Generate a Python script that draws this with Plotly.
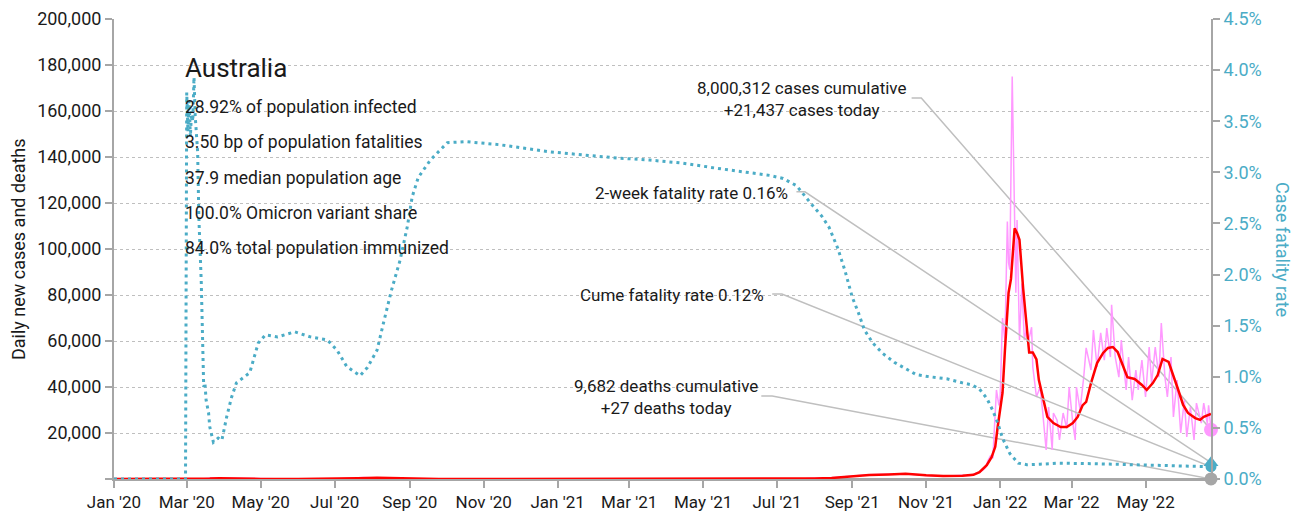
import plotly.graph_objects as go

# ==========================================
# Data
# ==========================================

# daily new cases (pink)
daily_dates = [
    "2020-01-01", "2020-03-01", "2020-03-15", "2020-03-22", "2020-03-28", "2020-04-05",
    "2020-04-20", "2020-06-01", "2020-07-05", "2020-07-25", "2020-08-05", "2020-08-20",
    "2020-09-10", "2020-10-15", "2021-01-10", "2021-03-01", "2021-07-01", "2021-07-25",
    "2021-08-15", "2021-09-01", "2021-09-15", "2021-10-01", "2021-10-15", "2021-11-01",
    "2021-11-15", "2021-12-01", "2021-12-08", "2021-12-12", "2021-12-15", "2021-12-18",
    "2021-12-20", "2021-12-22", "2021-12-24", "2021-12-26", "2021-12-27", "2021-12-29",
    "2021-12-31", "2022-01-01", "2022-01-03", "2022-01-05", "2022-01-07", "2022-01-08",
    "2022-01-09", "2022-01-11", "2022-01-13", "2022-01-14", "2022-01-15", "2022-01-16",
    "2022-01-17", "2022-01-19", "2022-01-21", "2022-01-23", "2022-01-24", "2022-01-27",
    "2022-01-28", "2022-01-31", "2022-02-03", "2022-02-05", "2022-02-08", "2022-02-10",
    "2022-02-13", "2022-02-14", "2022-02-17", "2022-02-19", "2022-02-22", "2022-02-25",
    "2022-02-27", "2022-03-02", "2022-03-04", "2022-03-05", "2022-03-08", "2022-03-11",
    "2022-03-13", "2022-03-17", "2022-03-19", "2022-03-22", "2022-03-25", "2022-03-28",
    "2022-03-30", "2022-04-02", "2022-04-03", "2022-04-06", "2022-04-09", "2022-04-11",
    "2022-04-15", "2022-04-17", "2022-04-20", "2022-04-23", "2022-04-25", "2022-04-28",
    "2022-05-01", "2022-05-04", "2022-05-06", "2022-05-09", "2022-05-12", "2022-05-14",
    "2022-05-17", "2022-05-19", "2022-05-22", "2022-05-24", "2022-05-27", "2022-05-30",
    "2022-06-02", "2022-06-04", "2022-06-07", "2022-06-10", "2022-06-12", "2022-06-16",
    "2022-06-18", "2022-06-21", "2022-06-22", "2022-06-24",
]
daily_cases = [
    0, 5, 120, 450, 400, 150,
    30, 10, 150, 700, 450, 250,
    50, 15, 25, 10, 20, 180,
    500, 1300, 1800, 2100, 2300, 1500,
    1200, 1600, 1500, 2500, 3000, 4000,
    5000, 8000, 10000, 9000, 18000, 38700,
    32000, 35000, 70000, 60000, 112000, 94000,
    91000, 175000, 112600, 81000, 112600, 83500,
    60400, 85000, 60400, 66000, 59000, 66000,
    48700, 35700, 40000, 30000, 12600, 31300,
    12600, 28700, 25600, 17000, 28700, 22000,
    40000, 24300, 17000, 40000, 30000, 44300,
    57000, 47400, 64800, 48700, 63500, 51700,
    65600, 53000, 75700, 53000, 44300, 60400,
    38700, 53000, 34300, 47400, 38700, 51700,
    35700, 57400, 41700, 57400, 44300, 67800,
    44300, 35700, 53000, 27000, 43000, 20000,
    34300, 18300, 31300, 17000, 33000, 24300,
    33000, 24000, 32000, 21437,
]

# 7-day average of cases (red)
avg_dates = [
    "2020-01-01", "2020-02-29", "2020-03-10", "2020-03-20", "2020-03-28", "2020-04-05",
    "2020-04-15", "2020-05-01", "2020-06-01", "2020-06-20", "2020-07-05", "2020-07-20",
    "2020-08-05", "2020-08-20", "2020-09-05", "2020-09-25", "2020-10-15", "2020-12-01",
    "2021-01-10", "2021-03-01", "2021-06-01", "2021-07-01", "2021-07-20", "2021-08-01",
    "2021-08-15", "2021-09-01", "2021-09-15", "2021-10-01", "2021-10-15", "2021-11-01",
    "2021-11-15", "2021-12-01", "2021-12-10", "2021-12-15", "2021-12-21", "2021-12-25",
    "2021-12-28", "2021-12-30", "2022-01-03", "2022-01-05", "2022-01-08", "2022-01-10",
    "2022-01-12", "2022-01-13", "2022-01-15", "2022-01-17", "2022-01-20", "2022-01-23",
    "2022-01-25", "2022-01-28", "2022-01-31", "2022-02-02", "2022-02-06", "2022-02-09",
    "2022-02-14", "2022-02-20", "2022-02-25", "2022-03-02", "2022-03-06", "2022-03-10",
    "2022-03-13", "2022-03-17", "2022-03-22", "2022-03-27", "2022-03-31", "2022-04-04",
    "2022-04-08", "2022-04-12", "2022-04-16", "2022-04-22", "2022-04-28", "2022-05-02",
    "2022-05-07", "2022-05-11", "2022-05-15", "2022-05-20", "2022-05-24", "2022-05-28",
    "2022-06-01", "2022-06-05", "2022-06-11", "2022-06-15", "2022-06-18", "2022-06-22",
    "2022-06-24",
]
avg_cases = [
    0, 2, 60, 250, 370, 230,
    60, 20, 10, 20, 120, 300,
    550, 350, 120, 30, 15, 10,
    20, 10, 10, 20, 120, 250,
    450, 1200, 1700, 1950, 2300, 1600,
    1300, 1400, 1800, 3000, 6000, 9500,
    14000, 22600, 37400, 56000, 81000, 87000,
    101000, 109000, 107000, 104000, 83000, 66000,
    55000, 55000, 52000, 43000, 33000, 27000,
    24300, 22600, 22600, 24300, 27000, 32000,
    33500, 41700, 50400, 54800, 57000, 57400,
    55200, 49600, 44300, 43500, 40900, 38700,
    41700, 45200, 52200, 50900, 44300, 38700,
    32200, 28700, 26500, 25700, 27000, 27800,
    28300,
]

# daily deaths (grey)
death_dates = [
    "2020-01-01", "2020-04-05", "2020-08-05", "2020-08-20", "2020-09-15", "2020-10-15",
    "2021-08-01", "2021-10-01", "2021-11-01", "2021-12-20", "2022-01-15", "2022-02-05",
    "2022-03-01", "2022-04-01", "2022-05-01", "2022-06-01", "2022-06-24",
]
daily_deaths = [0, 5, 20, 15, 5, 0, 2, 15, 10, 5, 60, 50, 25, 30, 40, 50, 27]

# cumulative case fatality rate, % (teal, right axis)
cfr_dates = [
    "2020-01-01", "2020-02-29", "2020-03-01", "2020-03-02", "2020-03-03", "2020-03-04",
    "2020-03-05", "2020-03-06", "2020-03-07", "2020-03-08", "2020-03-10", "2020-03-11",
    "2020-03-13", "2020-03-14", "2020-03-15", "2020-03-16", "2020-03-17", "2020-03-19",
    "2020-03-20", "2020-03-23", "2020-03-27", "2020-03-30", "2020-04-03", "2020-04-07",
    "2020-04-11", "2020-04-22", "2020-04-29", "2020-05-05", "2020-05-15", "2020-05-29",
    "2020-06-11", "2020-06-25", "2020-07-03", "2020-07-11", "2020-07-22", "2020-07-28",
    "2020-08-05", "2020-08-11", "2020-08-17", "2020-08-24", "2020-08-30", "2020-09-03",
    "2020-09-08", "2020-09-18", "2020-10-02", "2020-10-18", "2020-11-14", "2020-12-26",
    "2021-02-05", "2021-02-19", "2021-03-18", "2021-04-14", "2021-05-12", "2021-06-08",
    "2021-06-25", "2021-07-06", "2021-07-17", "2021-07-30", "2021-08-07", "2021-08-13",
    "2021-08-20", "2021-08-26", "2021-09-01", "2021-09-06", "2021-09-11", "2021-09-18",
    "2021-09-26", "2021-10-06", "2021-10-16", "2021-10-24", "2021-11-04", "2021-11-18",
    "2021-12-01", "2021-12-09", "2021-12-15", "2021-12-21", "2021-12-26", "2021-12-30",
    "2022-01-03", "2022-01-09", "2022-01-16", "2022-01-23", "2022-02-03", "2022-02-19",
    "2022-03-18", "2022-04-15", "2022-05-13", "2022-06-24",
]
cfr_pct = [
    0, 0, 3.78, 3.40, 3.70, 3.35,
    3.60, 3.50, 3.93, 3.55, 3.20, 2.56,
    1.92, 1.36, 0.90, 0.94, 0.77, 0.65,
    0.51, 0.36, 0.40, 0.38, 0.61, 0.80,
    0.94, 1.04, 1.33, 1.41, 1.39, 1.44,
    1.39, 1.36, 1.26, 1.10, 1.01, 1.09,
    1.26, 1.56, 1.85, 2.14, 2.47, 2.76,
    2.95, 3.12, 3.29, 3.30, 3.27, 3.20,
    3.15, 3.14, 3.12, 3.09, 3.04, 3.00,
    2.97, 2.94, 2.87, 2.68, 2.57, 2.46,
    2.26, 2.04, 1.78, 1.63, 1.46, 1.33,
    1.23, 1.14, 1.07, 1.02, 1.00, 0.98,
    0.94, 0.92, 0.88, 0.79, 0.67, 0.55,
    0.40, 0.25, 0.155, 0.14, 0.145, 0.155,
    0.15, 0.14, 0.13, 0.12,
]

two_week_cfr = 0.16
cases_cumulative = "8,000,312"
deaths_cumulative = "9,682"
deaths_today = 27

stats_lines = [
    "28.92% of population infected",
    "3.50 bp of population fatalities",
    "37.9 median population age",
    "100.0% Omicron variant share",
    "84.0% total population immunized",
]

tick_dates = [
    "2020-01-01", "2020-03-01", "2020-05-01", "2020-07-01", "2020-09-01", "2020-11-01",
    "2021-01-01", "2021-03-01", "2021-05-01", "2021-07-01", "2021-09-01", "2021-11-01",
    "2022-01-01", "2022-03-01", "2022-05-01",
]

# ==========================================
# Styles
# ==========================================

FONT = "Roboto, Liberation Sans, sans-serif"
TEXT = "#1a1a1a"
PINK = "#FF99FF"
RED = "#FF0000"
TEAL = "#4BACC6"
GREY = "#A6A6A6"
LEADER = "#BFBFBF"

last_date = avg_dates[-1]
cases_today = daily_cases[-1]

fig = go.Figure()

# leader lines from the callouts to the end points
fig.add_trace(go.Scatter(
    x=["2021-10-20", "2021-10-28", last_date], y=[165650, 165650, cases_today],
    mode="lines", line=dict(color=LEADER, width=1.5), hoverinfo="skip", showlegend=False))
fig.add_trace(go.Scatter(
    x=["2021-06-18", "2021-06-27", last_date], y=[36100, 36100, deaths_today],
    mode="lines", line=dict(color=LEADER, width=1.5), hoverinfo="skip", showlegend=False))

fig.add_trace(go.Scatter(
    x=daily_dates, y=daily_cases, mode="lines",
    line=dict(color=PINK, width=1.5), showlegend=False))
fig.add_trace(go.Scatter(
    x=death_dates, y=daily_deaths, mode="lines",
    line=dict(color=GREY, width=2), showlegend=False))
fig.add_trace(go.Scatter(
    x=avg_dates, y=avg_cases, mode="lines",
    line=dict(color=RED, width=2.5), showlegend=False))

fig.add_trace(go.Scatter(
    x=[last_date], y=[cases_today], mode="markers", cliponaxis=False,
    marker=dict(color=PINK, size=14), showlegend=False))
fig.add_trace(go.Scatter(
    x=[last_date], y=[deaths_today], mode="markers", cliponaxis=False,
    marker=dict(color=GREY, size=13), showlegend=False))

fig.add_trace(go.Scatter(
    x=["2021-07-17", "2021-07-24", last_date], y=[2.81, 2.81, two_week_cfr], yaxis="y2",
    mode="lines", line=dict(color=LEADER, width=1.5), hoverinfo="skip", showlegend=False))
fig.add_trace(go.Scatter(
    x=["2021-06-27", "2021-07-05", last_date], y=[1.81, 1.81, cfr_pct[-1]], yaxis="y2",
    mode="lines", line=dict(color=LEADER, width=1.5), hoverinfo="skip", showlegend=False))

fig.add_trace(go.Scatter(
    x=cfr_dates, y=cfr_pct, yaxis="y2", mode="lines",
    line=dict(color=TEAL, width=3, dash="3px,4px"), showlegend=False))
fig.add_trace(go.Scatter(
    x=[last_date], y=[cfr_pct[-1]], yaxis="y2", mode="markers", cliponaxis=False,
    marker=dict(color=TEAL, size=11), showlegend=False))
fig.add_trace(go.Scatter(
    x=[last_date], y=[two_week_cfr], yaxis="y2", mode="markers", cliponaxis=False,
    marker=dict(color=TEAL, size=13, symbol="triangle-up"), showlegend=False))

# ==========================================
# Text
# ==========================================

annotations = [
    dict(text="Australia", x=0.0629, y=0.893, font=dict(size=26)),
]
for i, line in enumerate(stats_lines):
    annotations.append(dict(text=line, x=0.0629, y=0.809 - i * 0.0768, font=dict(size=17.5)))
for a in annotations:
    a.update(xref="paper", yref="paper", xanchor="left", yanchor="middle", showarrow=False)

annotations += [
    dict(text=f"{cases_cumulative} cases cumulative<br>+{cases_today:,} cases today",
         x=0.627, y=0.826, xanchor="center", align="center"),
    dict(text=f"2-week fatality rate {two_week_cfr:.2f}%", x=0.616, y=0.622, xanchor="right"),
    dict(text=f"Cume fatality rate {cfr_pct[-1]:.2f}%", x=0.594, y=0.400, xanchor="right"),
    dict(text=f"{deaths_cumulative} deaths cumulative<br>+{deaths_today} deaths today",
         x=0.503, y=0.178, xanchor="center", align="center"),
]
for a in annotations[len(stats_lines) + 1:]:
    a.update(xref="paper", yref="paper", yanchor="middle", showarrow=False, font=dict(size=17))

annotations += [
    dict(text="Daily new cases and deaths", x=-0.0875, y=0.5, textangle=-90,
         xanchor="center", yanchor="middle",
         xref="paper", yref="paper", showarrow=False, font=dict(size=18)),
    dict(text="Case fatality rate", x=1.0657, y=0.5, textangle=90,
         xanchor="center", yanchor="middle",
         xref="paper", yref="paper", showarrow=False, font=dict(size=18, color=TEAL)),
]

fig.update_layout(
    width=1301,
    height=518,
    margin=dict(l=114, r=90, t=19, b=39),
    paper_bgcolor="white",
    plot_bgcolor="white",
    font=dict(family=FONT, size=17, color=TEXT),
    showlegend=False,
    annotations=annotations,
    xaxis=dict(
        type="date",
        range=["2020-01-01", last_date],
        tickvals=tick_dates,
        tickformat="%b '%y",
        ticks="outside", ticklen=7, tickwidth=2, tickcolor=GREY,
        showline=True, linecolor=GREY, linewidth=2,
        showgrid=False, zeroline=False, automargin=False,
        tickfont=dict(size=17),
    ),
    yaxis=dict(
        range=[0, 200000],
        tickvals=list(range(0, 200001, 20000)),
        ticktext=[""] + [f"{v:,}" for v in range(20000, 200001, 20000)],
        ticks="outside", ticklen=7, tickwidth=2, tickcolor=GREY,
        showline=True, linecolor=GREY, linewidth=2,
        showgrid=True, gridcolor=LEADER, griddash="dot", gridwidth=1,
        zeroline=False, automargin=False,
        tickfont=dict(size=18),
    ),
    yaxis2=dict(
        overlaying="y", side="right",
        range=[0, 4.5], dtick=0.5, tickformat=".1f", ticksuffix="%",
        ticks="outside", ticklen=7, tickwidth=2, tickcolor=GREY,
        showline=True, linecolor=GREY, linewidth=2,
        showgrid=False, zeroline=False, automargin=False,
        tickfont=dict(size=18, color=TEAL),
    ),
)

# drop the default 8px page margin so the figure fills the window exactly
fig.write_html(
    "out.html",
    config={"displayModeBar": False},
    post_script="document.body.style.margin = '0';",
)
